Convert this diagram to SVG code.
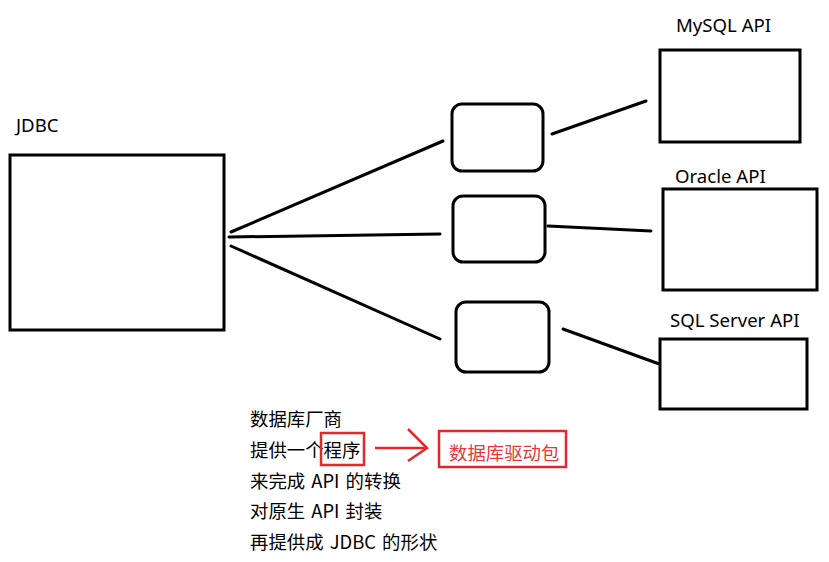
<svg xmlns="http://www.w3.org/2000/svg" width="829" height="562" viewBox="0 0 829 562">
<style>
.box{fill:#fff;stroke:#000;stroke-width:3}
.ln{stroke:#000;stroke-width:3;fill:none;stroke-linecap:round}
.t{font-family:"Noto Sans","Noto Sans CJK SC",sans-serif;font-size:18.6px;fill:#000}
.c{font-family:"Noto Sans CJK SC",sans-serif;font-size:18.4px;fill:#000;word-spacing:2px}
.red{stroke:#e5262b;stroke-width:2.5;fill:none}
</style>
<rect width="829" height="562" fill="#fff"/>
<g id="connectors">
<line class="ln" x1="231" y1="232" x2="443" y2="141"/>
<line class="ln" x1="229" y1="237" x2="440" y2="234"/>
<line class="ln" x1="231" y1="246" x2="440" y2="339"/>
<line class="ln" x1="552" y1="134" x2="646" y2="101"/>
<line class="ln" x1="548" y1="226" x2="651" y2="231"/>
<line class="ln" x1="563" y1="329" x2="662" y2="365"/>
</g>
<g id="jdbc">
<rect class="box" x="10" y="155" width="214" height="175"/>
<text class="t" x="16" y="132">JDBC</text>
</g>
<g id="driver1"><rect class="box" x="452" y="104" width="91" height="67" rx="10"/></g>
<g id="driver2"><rect class="box" x="453" y="196" width="92" height="66" rx="10"/></g>
<g id="driver3"><rect class="box" x="456" y="302" width="93" height="70" rx="10"/></g>
<g id="mysql">
<rect class="box" x="660" y="50" width="140" height="92"/>
<text class="t" x="676" y="32">MySQL API</text>
</g>
<g id="oracle">
<rect class="box" x="663" y="189" width="154" height="101"/>
<text class="t" x="675" y="183">Oracle API</text>
</g>
<g id="sqlserver">
<rect class="box" x="660" y="339" width="147" height="70"/>
<text class="t" x="670" y="327">SQL Server API</text>
</g>
<g id="notes">
<text class="c" x="250" y="426">数据库厂商</text>
<text class="c" x="250" y="457">提供一个程序</text>
<text class="c" x="250" y="488">来完成 API 的转换</text>
<text class="c" x="250" y="518">对原生 API 封装</text>
<text class="c" x="250" y="549">再提供成 JDBC 的形状</text>
<rect class="red" x="321" y="433" width="43" height="32"/>
</g>
<g id="arrow">
<line class="red" x1="375" y1="448" x2="427" y2="448"/>
<polyline class="red" points="408,429 427,448 408,461"/>
</g>
<g id="driverpkg">
<rect class="red" x="439" y="431" width="127" height="36"/>
<text class="c" x="449" y="460" style="fill:#e5393b">数据库驱动包</text>
</g>
</svg>
